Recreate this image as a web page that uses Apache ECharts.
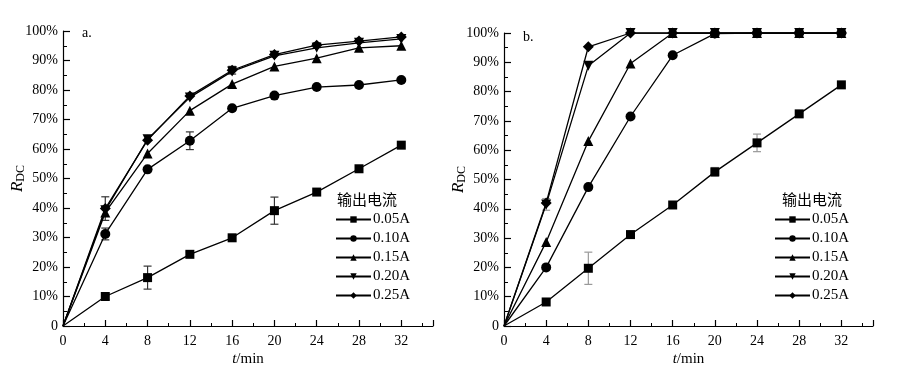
<!DOCTYPE html>
<html>
<head>
<meta charset="utf-8">
<script src="https://cdn.jsdelivr.net/npm/echarts@6/dist/echarts.min.js"></script>
<style>
  html, body { margin: 0; padding: 0; background: #fff; }
  #chart { width: 903px; height: 379px; }
</style>
</head>
<body>
<div id="chart"></div>
<script>
const times = [0, 4, 8, 12, 16, 20, 24, 28, 32]
const currents = ['0.05A', '0.10A', '0.15A', '0.20A', '0.25A']
const xTicks = [0, 4, 8, 12, 16, 20, 24, 28, 32]
const yTicks = [0, 10, 20, 30, 40, 50, 60, 70, 80, 90, 100]

// panel a (R_DC %, by current)
const a005 = [0, 10.0, 16.4, 24.3, 29.9, 39.1, 45.4, 53.3, 61.3]
const a010 = [0, 31.2, 53.1, 62.8, 73.8, 78.1, 81.0, 81.7, 83.4]
const a015 = [0, 38.5, 58.5, 73.0, 82.0, 88.0, 90.8, 94.3, 95.0]
const a020 = [0, 39.2, 63.3, 77.5, 86.3, 91.6, 94.3, 96.0, 97.3]
const a025 = [0, 39.8, 63.0, 78.0, 86.7, 92.0, 95.2, 96.6, 98.0]
// [t, value, half-range]
const aErr = [[4, 10.0, 1], [8, 16.4, 3.9], [12, 24.3, 0.8], [20, 39.1, 4.6],
  [4, 31.2, 2], [12, 62.8, 3], [4, 39.8, 4], [16, 86.7, 1.3], [24, 95.2, 0.8]]

// panel b
const b005 = [0, 8.2, 19.7, 31.2, 41.3, 52.6, 62.5, 72.4, 82.3]
const b010 = [0, 20.0, 47.4, 71.5, 92.4, 99.8, 100, 100, 100]
const b015 = [0, 28.7, 63.1, 89.6, 100, 100, 100, 100, 100]
const b020 = [0, 41.5, 88.8, 100, 100, 100, 100, 100, 100]
const b025 = [0, 42.0, 95.3, 100, 100, 100, 100, 100, 100]
const bErr = [[8, 19.7, 5.5], [20, 52.6, 1.5], [24, 62.5, 3], [4, 41.5, 2]]

const symbols = ['rect', 'circle', 'triangle', 'triangle', 'diamond']
const rotations = [0, 0, 0, 180, 0]
const sizes = [9, 10, 10, 10, 11]

const serif = '"Liberation Serif", "Times New Roman", serif'
const cjk = '"Noto Sans CJK SC", sans-serif'

const chart = echarts.init(document.getElementById('chart'))

const xAxisFor = (gi) => ({
  gridIndex: gi,
  type: 'value',
  min: 0, max: 35, interval: 4,
  name: '{i|t}/min',
  nameLocation: 'middle',
  nameGap: 26,
  nameMoveOverlap: false,
  nameTextStyle: {
    color: '#000', fontFamily: serif, fontSize: 15,
    rich: { i: { fontStyle: 'italic', fontFamily: serif, fontSize: 15, color: '#000' } }
  },
  axisLine: { lineStyle: { color: '#000', width: 1.2 } },
  axisTick: { inside: true, length: 6, lineStyle: { color: '#000', width: 1.2 } },
  minorTick: { show: true, splitNumber: 2, length: 3, lineStyle: { color: '#000' } },
  axisLabel: {
    color: '#000', fontFamily: serif, fontSize: 14, margin: 8,
    formatter: v => xTicks.includes(v) ? String(v) : ''
  },
  splitLine: { show: false }
})

const yAxisFor = (gi) => ({
  gridIndex: gi,
  type: 'value',
  min: 0, max: 100, interval: 10,
  name: '{i|R}{s|DC}',
  nameLocation: 'middle',
  nameRotate: 90,
  nameGap: 36,
  nameMoveOverlap: false,
  nameTextStyle: {
    color: '#000',
    rich: {
      i: { fontStyle: 'italic', fontFamily: serif, fontSize: 17, color: '#000' },
      s: { fontFamily: serif, fontSize: 12, color: '#000', verticalAlign: 'bottom', padding: [7, 0, 0, 0] }
    }
  },
  axisLine: { lineStyle: { color: '#000', width: 1.2 } },
  axisTick: { inside: true, length: 7, lineStyle: { color: '#000', width: 1.2 } },
  minorTick: { show: true, splitNumber: 2, length: 4, lineStyle: { color: '#000' } },
  axisLabel: {
    color: '#000', fontFamily: serif, fontSize: 14, margin: 5,
    formatter: v => yTicks.includes(v) ? (v === 0 ? '0' : v + '%') : ''
  },
  splitLine: { show: false }
})

const lineSeries = (gi, arrs) => arrs.map((vals, i) => ({
  name: currents[i],
  type: 'line',
  xAxisIndex: gi, yAxisIndex: gi,
  // no marker drawn at the origin
  data: times.map((t, k) => (t === 0 ? { value: [t, vals[k]], symbol: 'none' } : [t, vals[k]])),
  symbol: symbols[i],
  symbolRotate: rotations[i],
  symbolSize: sizes[i],
  showSymbol: true,
  lineStyle: { color: '#000', width: 1.3 },
  itemStyle: { color: '#000' },
  emphasis: { disabled: true },
  z: 3
}))

const errSeries = (gi, errs, color) => ({
  type: 'custom',
  xAxisIndex: gi, yAxisIndex: gi,
  data: errs,
  z: 2,
  renderItem: (params, api) => {
    const x = api.value(0), y = api.value(1), e = api.value(2)
    const top = api.coord([x, y + e])
    const bot = api.coord([x, y - e])
    const w = 4
    const st = { stroke: color, lineWidth: 1.2 }
    return {
      type: 'group',
      children: [
        { type: 'line', shape: { x1: top[0], y1: top[1], x2: bot[0], y2: bot[1] }, style: st },
        { type: 'line', shape: { x1: top[0] - w, y1: top[1], x2: top[0] + w, y2: top[1] }, style: st },
        { type: 'line', shape: { x1: bot[0] - w, y1: bot[1], x2: bot[0] + w, y2: bot[1] }, style: st }
      ]
    }
  }
})

const legendFor = (left) => ({
  data: currents,
  orient: 'vertical',
  left: left, top: 212,
  padding: 0,
  itemWidth: 35, itemHeight: 8,
  itemGap: 4,
  selectedMode: false,
  textStyle: { color: '#000', fontFamily: serif, fontSize: 15, padding: [0, 0, 0, -3] }
})

chart.setOption({
  animation: false,
  backgroundColor: '#fff',
  grid: [
    { left: 63, top: 31, width: 370, height: 295 },
    { left: 504, top: 33, width: 369, height: 293 }
  ],
  xAxis: [xAxisFor(0), xAxisFor(1)],
  yAxis: [yAxisFor(0), yAxisFor(1)],
  legend: [legendFor(335), legendFor(774)],
  graphic: [
    { type: 'text', left: 82, top: 26, style: { text: 'a.', font: '14px ' + serif, fill: '#000' } },
    { type: 'text', left: 523, top: 30, style: { text: 'b.', font: '14px ' + serif, fill: '#000' } },
    { type: 'text', left: 337, top: 192, style: { text: '输出电流', font: '15px ' + cjk, fill: '#000' } },
    { type: 'text', left: 782, top: 192, style: { text: '输出电流', font: '15px ' + cjk, fill: '#000' } }
  ],
  series: [
    ...lineSeries(0, [a005, a010, a015, a020, a025]),
    errSeries(0, aErr, '#333'),
    ...lineSeries(1, [b005, b010, b015, b020, b025]),
    errSeries(1, bErr, '#999')
  ]
})
</script>
</body>
</html>
